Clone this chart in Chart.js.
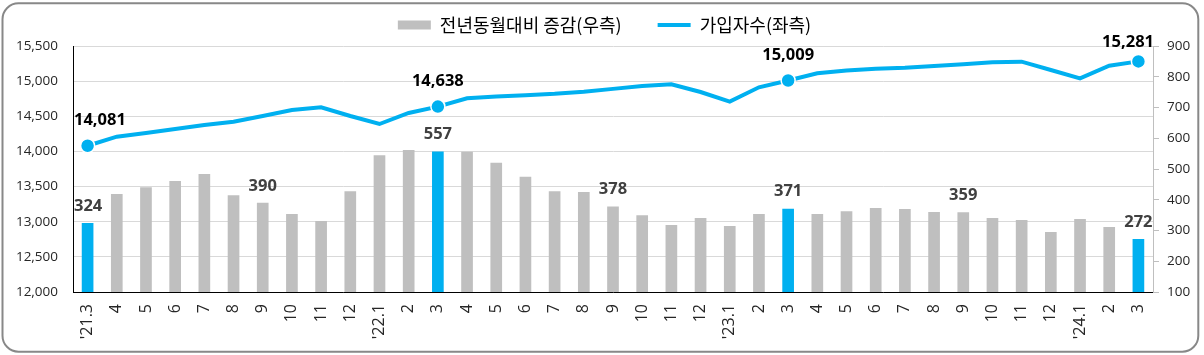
<!DOCTYPE html>
<html><head><meta charset="utf-8">
<script src="https://cdn.jsdelivr.net/npm/chart.js@4.4.1/dist/chart.umd.min.js"></script>
<style>html,body{margin:0;padding:0;background:#fff;}canvas{display:block;}</style>
</head><body>
<canvas id="c" width="1204" height="355"></canvas>
<script>
const categories = ["'21.3","4","5","6","7","8","9","10","11","12",
  "'22.1","2","3","4","5","6","7","8","9","10","11","12",
  "'23.1","2","3","4","5","6","7","8","9","10","11","12",
  "'24.1","2","3"];
const yoyChange = [324,419,441,461,484,415,390,354,331,428,
  545,562,557,556,520,475,428,425,378,350,318,341,
  315,354,371,354,363,373,370,360,359,341,334,295,
  337,311,272];
const subscribers = [14081,14210,14262,14320,14376,14423,14504,14589,14628,14504,
  14390,14547,14638,14756,14780,14800,14820,14850,14890,14930,14955,14845,
  14708,14912,15009,15111,15150,15175,15190,15215,15240,15270,15277,15159,
  15040,15220,15281];
const highlightIdx = [0,12,24,36];
const barLabelIdx = [0,6,12,18,24,30,36];
const leftTicks = [12000,12500,13000,13500,14000,14500,15000,15500];
const rightTicks = [100,200,300,400,500,600,700,800,900];
const seriesNames = ["전년동월대비 증감(우측)","가입자수(좌측)"];

const GRAY = '#bfbfbf', BLUE = '#00b0f0', TXT = '#262626';
const fmt = v => v.toLocaleString('en-US');
const LEG_PAD = 36;

const framePlugin = {
  id: 'frame',
  beforeDraw(chart) {
    const ctx = chart.ctx;
    ctx.save();
    ctx.strokeStyle = '#888';
    ctx.lineWidth = 2;
    ctx.beginPath();
    ctx.roundRect(2.5, 3.3, 1195.8, 348.4, 16);
    ctx.stroke();
    ctx.restore();
  }
};

const legendFix = {
  id: 'legendFix',
  beforeInit(chart) {
    const lg = chart.legend;
    const orig = lg.fit;
    lg.fit = function() { orig.call(this); this.height = 46; };
  },
  afterLayout(chart) {
    const lg = chart.legend;
    const pad = LEG_PAD;
    const visual = lg.lineWidths[0] - pad;
    const desired = 604.5 - visual / 2;
    const current = (lg.left + pad + lg.right - lg.lineWidths[0]) / 2;
    const dx = desired - current;
    lg.left += dx; lg.right += dx;
    lg.top = 25 - 9 - pad;
  }
};

const labelPlugin = {
  id: 'valueLabels',
  afterDatasetsDraw(chart) {
    const ctx = chart.ctx, area = chart.chartArea;
    ctx.save();
    ctx.font = 'bold 16.5px "Open Sans"';
    ctx.textAlign = 'center';
    ctx.textBaseline = 'middle';
    const draw = (text, x, y, color) => {
      const w = ctx.measureText(text).width;
      let cx = Math.max(x, area.left + 1 + w / 2);
      cx = Math.min(cx, area.right + 1 - w / 2);
      ctx.fillStyle = color;
      ctx.fillText(text, cx, y);
    };
    const bm = chart.getDatasetMeta(0);
    barLabelIdx.forEach(i => { const el = bm.data[i]; draw(fmt(yoyChange[i]), el.x, el.y - 17, '#404040'); });
    const lm = chart.getDatasetMeta(1);
    highlightIdx.forEach(i => { const el = lm.data[i]; draw(fmt(subscribers[i]), el.x, Math.max(el.y - 25, area.top - 4), '#000'); });
    ctx.restore();
  }
};

new Chart(document.getElementById('c'), {
  data: {
    labels: categories,
    datasets: [
      {
        type: 'bar', label: seriesNames[0], data: yoyChange, yAxisID: 'y1', order: 2,
        backgroundColor: ctx => highlightIdx.includes(ctx.dataIndex) ? BLUE : GRAY,
        barPercentage: 0.4, categoryPercentage: 1.0
      },
      {
        type: 'line', label: seriesNames[1], data: subscribers, yAxisID: 'y', order: 1,
        borderColor: BLUE, borderWidth: 4, tension: 0, fill: false, clip: false,
        pointRadius: ctx => highlightIdx.includes(ctx.dataIndex) ? 7 : 0,
        pointBackgroundColor: BLUE, pointBorderColor: '#fff', pointBorderWidth: 1.5,
        pointHoverRadius: 0
      }
    ]
  },
  options: {
    responsive: false, devicePixelRatio: 1, animation: false,
    layout: { padding: 0 },
    plugins: {
      tooltip: { enabled: false },
      legend: {
        position: 'top',
        labels: {
          usePointStyle: true, pointStyleWidth: 33, boxHeight: 9, padding: LEG_PAD,
          color: '#000', font: { family: '"Noto Sans CJK KR"', size: 18 },
          generateLabels: chart => [
            { text: chart.data.datasets[0].label, fillStyle: GRAY, strokeStyle: GRAY, lineWidth: 0, pointStyle: 'rect', datasetIndex: 0, hidden: false, fontColor: '#000' },
            { text: chart.data.datasets[1].label, fillStyle: BLUE, strokeStyle: BLUE, lineWidth: 4, pointStyle: 'line', datasetIndex: 1, hidden: false, fontColor: '#000' }
          ]
        }
      }
    },
    scales: {
      x: {
        grid: { display: false, drawTicks: false },
        border: { display: true, color: '#000', width: 1 },
        ticks: { maxRotation: 90, minRotation: 90, autoSkip: false, padding: 12, color: TXT, font: { family: '"Open Sans"', size: 16 } },
        afterFit: s => { s.height = 63; }
      },
      y: {
        position: 'left', min: leftTicks[0], max: leftTicks[leftTicks.length - 1],
        afterBuildTicks: s => { s.ticks = leftTicks.map(v => ({ value: v })); },
        grid: { color: '#d9d9d9', drawTicks: false },
        border: { display: true, color: '#000', width: 1 },
        ticks: { padding: 15, color: TXT, font: { family: '"Open Sans"', size: 13.5 }, callback: v => fmt(v) },
        afterFit: s => { s.width = 73; }
      },
      y1: {
        position: 'right', min: rightTicks[0], max: rightTicks[rightTicks.length - 1],
        afterBuildTicks: s => { s.ticks = rightTicks.map(v => ({ value: v })); },
        grid: { drawOnChartArea: false, drawTicks: true, tickLength: 6, color: '#bfbfbf' },
        border: { display: true, color: '#bfbfbf', width: 1 },
        ticks: { padding: 8, color: TXT, font: { family: '"Open Sans"', size: 13.5 } },
        afterFit: s => { s.width = 51; }
      }
    }
  },
  plugins: [framePlugin, legendFix, labelPlugin]
});
</script>
</body></html>
